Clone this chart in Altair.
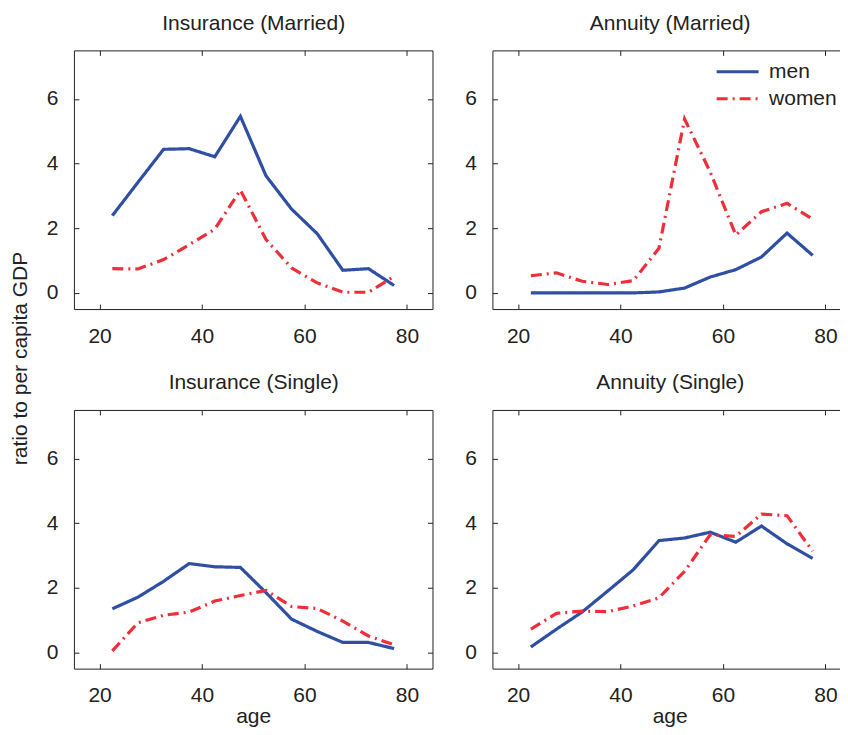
import altair as alt
import pandas as pd

# ---------------- data ----------------
ages = [22.5, 27.5, 32.5, 37.5, 42.5, 47.5, 52.5, 57.5, 62.5, 67.5, 72.5, 77.5]

ins_married_men = [2.39, 3.42, 4.44, 4.46, 4.21, 5.46, 3.62, 2.59, 1.83, 0.70, 0.75, 0.23]
ins_married_women = [0.75, 0.74, 1.03, 1.49, 1.97, 3.18, 1.65, 0.77, 0.31, 0.02, 0.02, 0.51]

ann_married_men = [0.0, 0.0, 0.0, 0.0, 0.0, 0.03, 0.15, 0.49, 0.72, 1.11, 1.85, 1.16]
ann_married_women = [0.53, 0.62, 0.36, 0.26, 0.38, 1.38, 5.38, 3.74, 1.79, 2.51, 2.77, 2.28]

ins_single_men = [1.35, 1.71, 2.20, 2.75, 2.65, 2.63, 1.85, 1.03, 0.65, 0.31, 0.31, 0.12]
ins_single_women = [0.05, 0.92, 1.15, 1.25, 1.59, 1.76, 1.92, 1.42, 1.36, 0.97, 0.51, 0.24]

ann_single_men = [0.17, 0.72, 1.25, 1.90, 2.56, 3.46, 3.54, 3.72, 3.41, 3.91, 3.36, 2.91]
ann_single_women = [0.72, 1.21, 1.28, 1.26, 1.44, 1.69, 2.51, 3.64, 3.59, 4.28, 4.23, 3.13]

panel_titles = ["Insurance (Married)", "Annuity (Married)",
                "Insurance (Single)", "Annuity (Single)"]
sexes = ["men", "women"]
x_ticks = [20, 40, 60, 80]
y_ticks = [0, 2, 4, 6]
y_title = "ratio to per capita GDP"
x_title = "age"

# ---------------- style ----------------
FONT = "Liberation Sans"
FS = 21
TXT = "#222222"
BLUE = "#2F4FA2"
RED = "#EE2F39"
H = 259


def panel(title, men, women, width, xmax, show_xtitle, show_ytitle, show_legend):
    df = pd.DataFrame({
        "age": ages + ages,
        "value": men + women,
        "sex": ["men"] * len(ages) + ["women"] * len(ages),
    })
    xs = alt.Scale(domain=[15, xmax], nice=False, zero=False)
    ys = alt.Scale(domain=[-0.5, 7.5], nice=False, zero=False)

    if show_legend:
        leg = alt.Legend(title=None, orient="none", legendX=235, legendY=11,
                         symbolType="M-2.5,0H2.5", symbolSize=282, symbolStrokeWidth=3,
                         symbolFillColor="transparent",
                         labelFont=FONT, labelFontSize=FS, labelColor=TXT,
                         labelOffset=21, padding=0, rowPadding=5)
    else:
        leg = None

    color = alt.Color("sex:N", scale=alt.Scale(domain=sexes, range=[BLUE, RED]), legend=leg)
    dash = alt.StrokeDash("sex:N", scale=alt.Scale(domain=sexes, range=[[1, 0], [11, 5, 2, 5]]),
                          legend=leg)

    common_axis = dict(values=x_ticks, offset=-5, tickSize=5, domain=False, grid=False,
                       tickColor=TXT, tickWidth=1, labelFont=FONT, labelFontSize=FS,
                       labelColor=TXT, labelFlush=False, labelOverlap=False,
                       minExtent=0, titleFont=FONT, titleFontSize=FS,
                       titleFontWeight="normal", titleColor=TXT)

    bx_kw = dict(common_axis, orient="bottom", labelPadding=16)
    if show_xtitle:
        bx_kw.update(title=x_title, titleBaseline="alphabetic", titleY=59)
    else:
        bx_kw.update(title=None)
    bottom_axis = alt.Axis(**bx_kw)
    top_axis = alt.Axis(**dict(common_axis, orient="top", labels=False, title=title,
                               titleBaseline="alphabetic", titleY=-26, titleX=width / 2,
                               titleAlign="center"))

    ly_kw = dict(common_axis, values=y_ticks, orient="left", labelPadding=16)
    if show_ytitle:
        ly_kw.update(title=y_title, titleAngle=270, titleBaseline="alphabetic",
                     titleAlign="center", titleX=-52, titleY=308)
    else:
        ly_kw.update(title=None)
    left_axis = alt.Axis(**ly_kw)
    right_axis = alt.Axis(**dict(common_axis, values=y_ticks, orient="right", labels=False, title=None))

    base = alt.Chart(df)
    men_layer = base.transform_filter(alt.datum.sex == "men").mark_line(strokeWidth=3.2).encode(
        x=alt.X("age:Q", scale=xs, axis=bottom_axis),
        y=alt.Y("value:Q", scale=ys, axis=left_axis),
        color=color,
        strokeDash=dash,
    )
    women_layer = base.transform_filter(alt.datum.sex == "women").mark_line(strokeWidth=3.2).encode(
        x=alt.X("age:Q", scale=xs, axis=top_axis),
        y=alt.Y("value:Q", scale=ys, axis=right_axis),
        color=color,
        strokeDash=dash,
    )
    return alt.layer(men_layer, women_layer).resolve_axis(
        x="independent", y="independent"
    ).properties(width=width, height=H)


tl = panel(panel_titles[0], ins_married_men, ins_married_women, 359, 85, False, True, False)
tr = panel(panel_titles[1], ann_married_men, ann_married_women, 355, 84.2, False, False, True)
bl = panel(panel_titles[2], ins_single_men, ins_single_women, 359, 85, True, False, False)
br = panel(panel_titles[3], ann_single_men, ann_single_women, 355, 84.2, True, False, False)

chart = alt.concat(
    tl, tr, bl, br, columns=2, spacing={"row": 101, "column": 60}, bounds="flush", align="each"
).resolve_legend(
    color="independent", strokeDash="independent"
).properties(
    padding={"left": 1, "top": 3, "right": -8, "bottom": 0}
).configure(
    font=FONT
).configure_view(
    stroke=TXT, strokeWidth=1
)

chart.save("out.html", embed_options={"renderer": "svg", "actions": False})
